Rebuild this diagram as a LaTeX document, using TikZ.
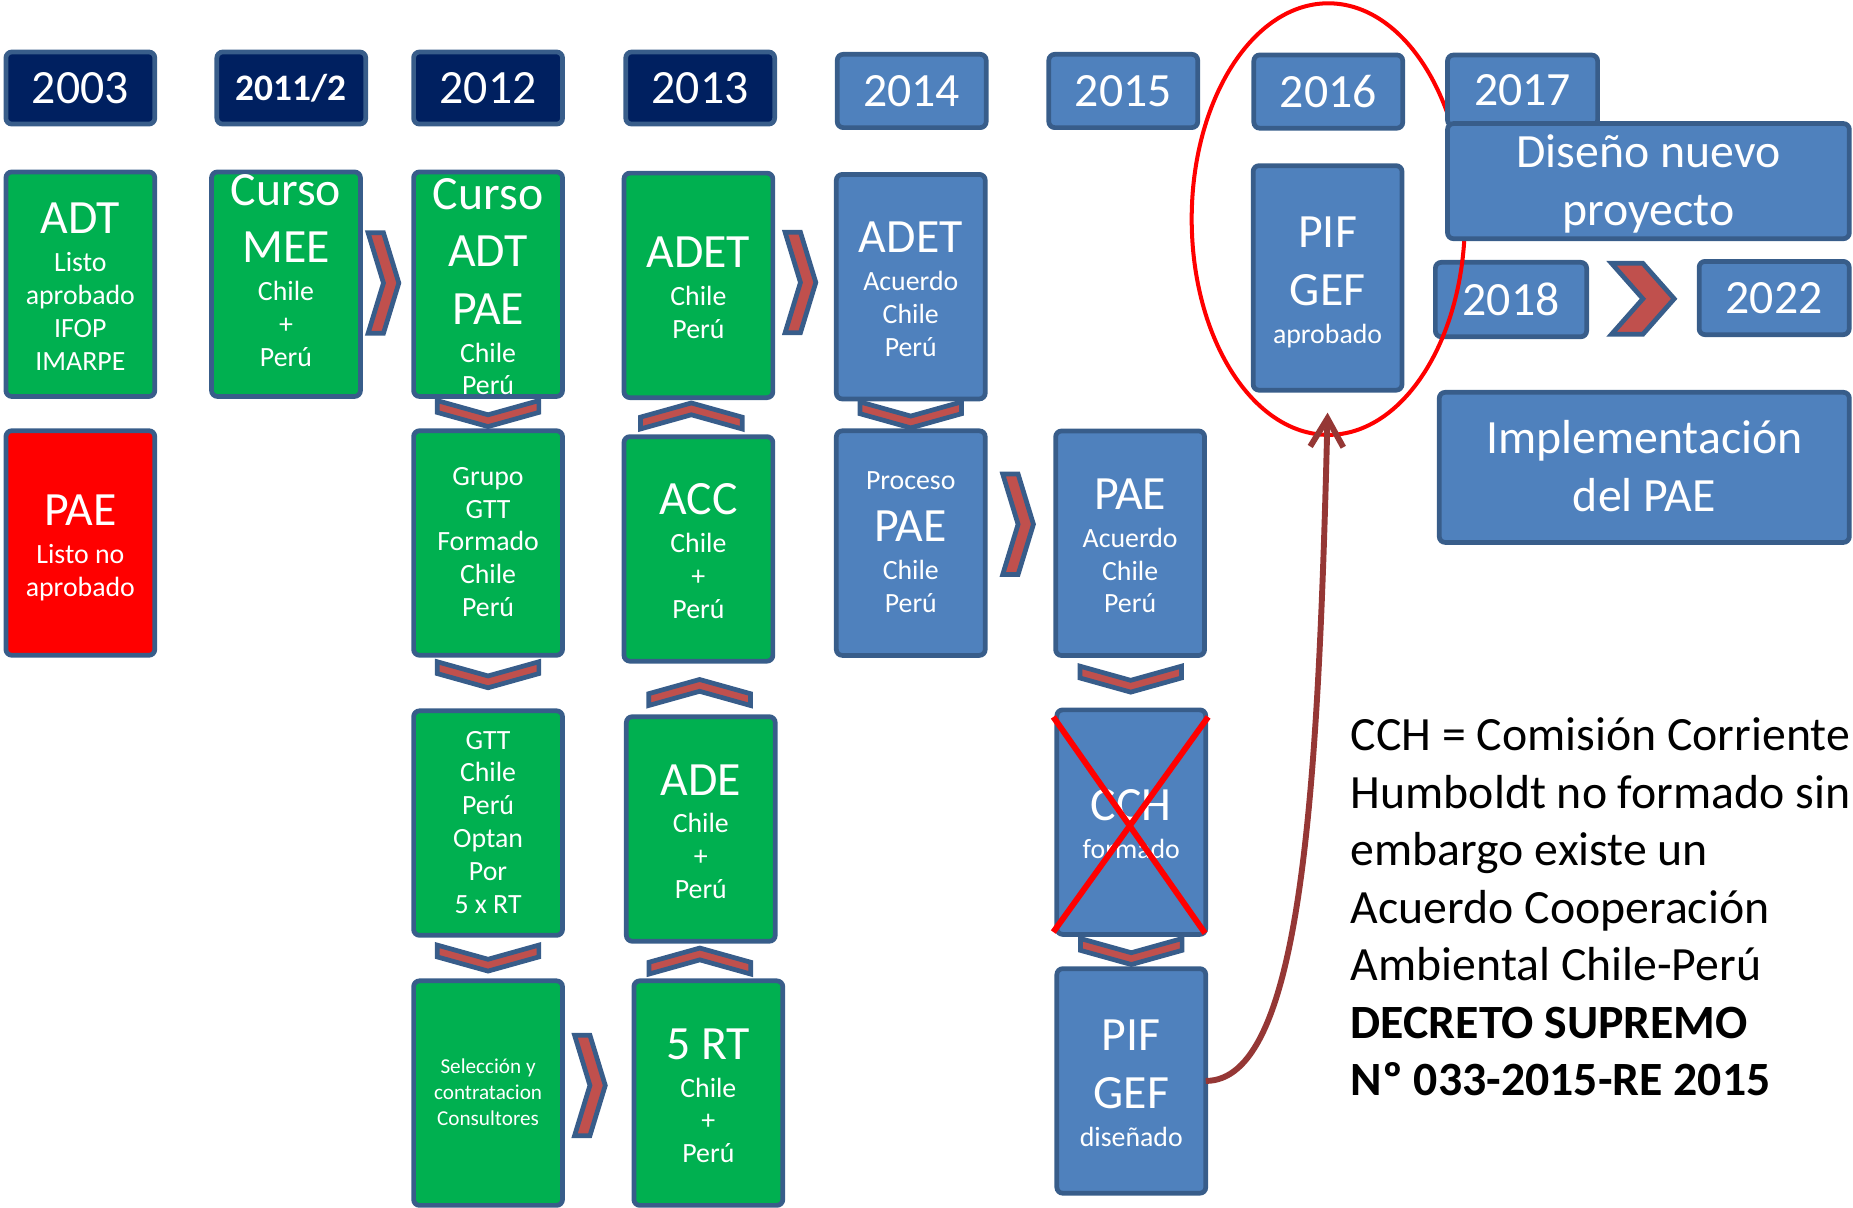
\documentclass[tikz,border=0pt]{standalone}
\usepackage{fontspec}
\setmainfont{Carlito}
\usetikzlibrary{positioning}
\usetikzlibrary{calc}
\usetikzlibrary{arrows.meta}

\definecolor{navy}{HTML}{002060}
\definecolor{outline}{HTML}{385D8A}
\definecolor{stagegreen}{HTML}{00B050}
\definecolor{stageblue}{HTML}{4F81BD}
\definecolor{chevred}{HTML}{C0504D}
\definecolor{linkred}{HTML}{953735}

% line heights as on the slide
\newcommand{\stackfont}{\fontsize{6.7}{0}\selectfont\lineskip=0pt\lineskiplimit=0pt}
\newcommand{\lbig}[1]{{\fontsize{11.5}{0}\selectfont\rule[-3.26pt]{0pt}{13.86pt}#1}}
\newcommand{\lsmall}[1]{{\fontsize{6.7}{0}\selectfont\rule[-2.03pt]{0pt}{7.9pt}#1}}
\newcommand{\ltiny}[1]{{\fontsize{5.1}{0}\selectfont\rule[-1.6pt]{0pt}{6.25pt}#1}}

\begin{document}
\begin{tikzpicture}[x=0.1mm, y=-0.1mm,
  year/.style={draw=outline, line width=0.4mm, fill=navy, text=white,
    rounded corners=0.5mm, inner sep=0pt, outer sep=0pt,
    minimum width=12.6mm, minimum height=6.1mm, font=\fontsize{11.5}{14}\selectfont},
  lateyear/.style={year, fill=stageblue, minimum height=6.2mm},
  stage/.style={draw=outline, line width=0.4mm, text=white, align=center,
    rounded corners=0.5mm, inner sep=0pt, outer sep=0pt,
    minimum width=12.6mm, minimum height=19mm, font=\stackfont},
  stagetext/.style={text=white, align=center, inner sep=0pt, font=\stackfont},
  greenstage/.style={stage, fill=stagegreen},
  redstage/.style={stage, fill=red},
  bluestage/.style={stage, fill=stageblue},
  chev/.style={draw=outline, fill=chevred, line width=0.4mm, line join=miter},
  chevdown/.pic={\draw[chev] (-43,-11) -- (0,1) -- (43,-11) -- (43,-1) -- (0,11) -- (-43,-1) -- cycle;},
  chevup/.pic={\draw[chev] (-43,11) -- (0,-1) -- (43,11) -- (43,1) -- (0,-11) -- (-43,1) -- cycle;},
  chevright/.pic={\draw[chev] (-13,-42.5) -- (0,-42.5) -- (13,0) -- (0,42.5) -- (-13,42.5) -- (0,0) -- cycle;},
  link/.style={linkred, line width=0.5mm, -{Straight Barb[length=2.4mm, width=2.8mm]}},
  ring/.style={red, line width=0.34mm},
  cross/.style={red, line width=0.5mm}
]
\useasboundingbox (0,0) rectangle (1568,1022);
% Years
\node[year] (y2003) at (68,74.5) {2003};
\node[year, font=\fontsize{9}{11}\selectfont\bfseries] (y2011) at (246.5,74.5) {2011/2};
\node[year] (y2012) at (413,74.5) {2012};
\node[year] (y2013) at (592.5,74.5) {2013};
\node[lateyear] (y2014) at (771.5,77) {2014};
\node[lateyear] (y2015) at (950.5,77) {2015};
\node[lateyear] (y2016) at (1124,77.5) {2016};
\node[lateyear, minimum width=12.8mm, minimum height=6.3mm] (y2018) at (1278.6,253.5) {2018};
\node[lateyear, minimum width=12.7mm] (y2022) at (1501.3,252.2) {2022};
\node[lateyear, minimum width=34.7mm, minimum height=12.7mm, align=center, font=\stackfont] (impl) at (1391.4,395.5) {\lbig{Implementación}\\ \lbig{del PAE}};
% 2003
\node[greenstage] (adt) at (68,240.5) {\lbig{ADT}\\ \lsmall{Listo}\\ \lsmall{aprobado}\\ \lsmall{IFOP}\\ \lsmall{IMARPE}};
\node[redstage, below=2.9mm of adt] (paelisto) {\lbig{PAE}\\ \lsmall{Listo no}\\ \lsmall{aprobado}};
% 2011/2
\node[greenstage, label={[stagetext]center:{\lbig{Curso}\\ \lbig{MEE}\\ \lsmall{Chile}\\ \lsmall{+}\\ \lsmall{Perú}\\ \lsmall{}}}] (mee) at (242,240.5) {};
% 2012
\node[greenstage, label={[stagetext]center:{\lbig{Curso}\\ \lbig{ADT}\\ \lbig{PAE}\\ \lsmall{Chile}\\ \lsmall{Perú}}}] (adtpae) at (413,240.5) {};
\node[greenstage, below=2.9mm of adtpae] (grupo) {\lsmall{Grupo}\\ \lsmall{GTT}\\ \lsmall{Formado}\\ \lsmall{Chile}\\ \lsmall{Perú}};
\node[greenstage, below=4.7mm of grupo] (gtt) {\lsmall{GTT}\\ \lsmall{Chile}\\ \lsmall{Perú}\\ \lsmall{Optan}\\ \lsmall{Por}\\ \lsmall{5 x RT}};
\node[greenstage, below=3.85mm of gtt] (sel) {\ltiny{Selección y}\\ \ltiny{contratacion}\\ \ltiny{Consultores}};
% 2013
\node[greenstage] (adet13) at (591,241.5) {\lbig{ADET}\\ \lsmall{Chile}\\ \lsmall{Perú}};
\node[greenstage, below=3.3mm of adet13] (acc) {\lbig{ACC}\\ \lsmall{Chile}\\ \lsmall{+}\\ \lsmall{Perú}};
\node[greenstage, below=4.7mm of acc, xshift=0.2mm] (ade) {\lbig{ADE}\\ \lsmall{Chile}\\ \lsmall{+}\\ \lsmall{Perú}};
\node[greenstage, below=3.35mm of ade, xshift=0.64mm] (rt5) {\lbig{5 RT}\\ \lsmall{Chile}\\ \lsmall{+}\\ \lsmall{Perú}};
% 2014
\node[bluestage] (adet14) at (770.7,242.6) {\lbig{ADET}\\ \lsmall{Acuerdo}\\ \lsmall{Chile}\\ \lsmall{Perú}};
\node[bluestage, below=2.7mm of adet14] (proc) {\lsmall{Proceso}\\ \lbig{PAE}\\ \lsmall{Chile}\\ \lsmall{Perú}};
% 2015
\node[bluestage] (pae15) at (956.3,459.7) {\lbig{PAE}\\ \lsmall{Acuerdo}\\ \lsmall{Chile}\\ \lsmall{Perú}};
\node[bluestage, below=4.6mm of pae15, xshift=0.1mm] (cch) {\lbig{CCH}\\ \lsmall{formado}};
\node[bluestage, below=2.9mm of cch] (pifd) {\lbig{PIF}\\ \lbig{GEF}\\ \lsmall{diseñado}};
% 2016
\node[bluestage] (pifa) at (1123.4,235.2) {\lbig{PIF}\\ \lbig{GEF}\\ \lsmall{aprobado}};
% Chevrons
\pic at ($(mee.east)!.5!(adtpae.west)+(-3,-1)$) {chevright};
\pic at ($(sel.east)!.5!(rt5.west)+(-7,-6.5)$) {chevright};
\pic at ($(adet13.east)!.5!(adet14.west)+(-3.5,-3)$) {chevright};
\pic at ($(proc.east)!.5!(pae15.west)+(-2,-16)$) {chevright};
\pic[xscale=2.04, yscale=0.706] at ($(y2018.east)!.5!(y2022.west)$) {chevright};
\pic at ($(adtpae.south)!.5!(grupo.north)$) {chevdown};
\pic at ($(grupo.south)!.5!(gtt.north)+(0,-7)$) {chevdown};
\pic at ($(gtt.south)!.5!(sel.north)$) {chevdown};
\pic at ($(adet14.south)!.5!(proc.north)$) {chevdown};
\pic at ($(pae15.south)!.5!(cch.north)+(0,-3)$) {chevdown};
\pic at ($(cch.south)!.5!(pifd.north)$) {chevdown};
\pic at ($(adet13.south)!.5!(acc.north)+(-6,-1)$) {chevup};
\pic at ($(acc.south)!.5!(ade.north)+(0,3)$) {chevup};
\pic at ($(ade.south)!.5!(rt5.north)+(-4,0)$) {chevup};
% Ring round 2016
\draw[ring] (1124,185.4) ellipse [x radius=115.6, y radius=182.6];
% 2017
\node[lateyear, minimum width=12.7mm, minimum height=6.0mm] (y2017) at (1288.4,76.6) {2017};
\node[lateyear, minimum width=34.0mm, minimum height=8.5mm, align=center, font=\stackfont] (diseno) at (1394.9,153.3) {\lbig{Diseño nuevo}\\ \lbig{proyecto}};
% CCH crossed out
\draw[cross] ($(cch.north west)+(-3,6)$) -- ($(cch.south east)+(-0.6,-1)$);
\draw[cross] ($(cch.north east)+(2,6)$) -- ($(cch.south west)+(-3,-2)$);
% Link
\coordinate (tip) at ($(pifa.south)+(0,19)$);
\draw[link] (pifd.east) .. controls ($(pifd.east)+(80,0)$) and ($(tip)+(-8,330)$) .. (tip);
% Note
\node[anchor=north west, align=left, inner sep=0pt, font=\fontsize{11.5}{13.85}\selectfont] (note) at (1142.4,603)
  {\rule{0pt}{9pt}CCH = Comisión Corriente\\ Humboldt no formado sin\\ embargo existe un\\ Acuerdo Cooperación\\ Ambiental Chile-Perú\\ \textbf{DECRETO SUPREMO}\\ \textbf{Nº 033-2015-RE 2015}};
\end{tikzpicture}
\end{document}
